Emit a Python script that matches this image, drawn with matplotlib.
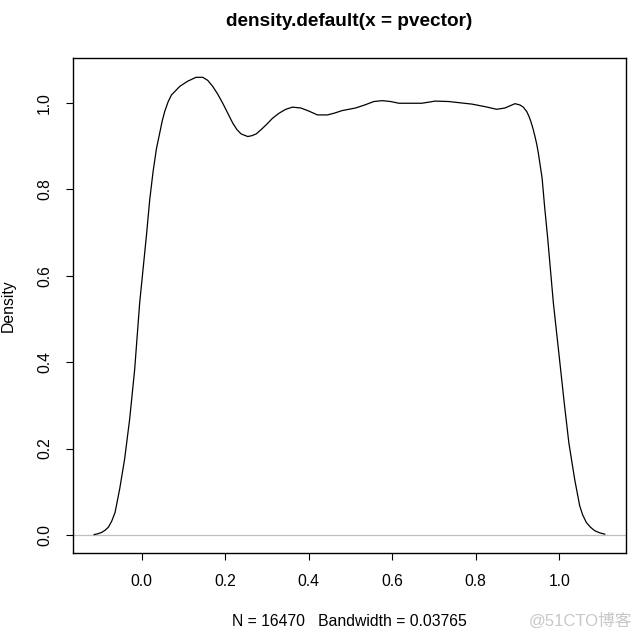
import matplotlib
matplotlib.use("Agg")
import matplotlib.pyplot as plt

# Density curve
xs = [-0.114, -0.105, -0.096, -0.088, -0.080, -0.072, -0.064, -0.053, -0.041,
      -0.029, -0.017, -0.005, 0.011, 0.019, 0.027, 0.035, 0.043, 0.049, 0.055,
      0.063, 0.071, 0.091, 0.110, 0.130, 0.146, 0.158, 0.170, 0.182, 0.194,
      0.206, 0.218, 0.228, 0.238, 0.254, 0.264, 0.274, 0.286, 0.298, 0.313,
      0.329, 0.345, 0.361, 0.381, 0.400, 0.421, 0.445, 0.461, 0.480, 0.512,
      0.534, 0.556, 0.576, 0.596, 0.616, 0.671, 0.703, 0.735, 0.791, 0.823,
      0.850, 0.870, 0.882, 0.894, 0.906, 0.914, 0.922, 0.927, 0.932, 0.937,
      0.942, 0.946, 0.950, 0.954, 0.959, 0.965, 0.972, 0.986, 0.999, 1.012,
      1.023, 1.037, 1.049, 1.056, 1.065, 1.075, 1.085, 1.097, 1.109]
ys = [0.001, 0.003, 0.006, 0.011, 0.018, 0.032, 0.052, 0.106, 0.176,
      0.268, 0.383, 0.537, 0.691, 0.775, 0.840, 0.893, 0.930, 0.958, 0.980,
      1.002, 1.018, 1.038, 1.050, 1.059, 1.059, 1.052, 1.038, 1.020, 0.999,
      0.976, 0.953, 0.938, 0.928, 0.922, 0.924, 0.928, 0.938, 0.949, 0.964,
      0.976, 0.985, 0.990, 0.988, 0.981, 0.972, 0.972, 0.976, 0.982, 0.988,
      0.995, 1.003, 1.005, 1.003, 0.999, 0.999, 1.004, 1.003, 0.997, 0.991,
      0.985, 0.988, 0.993, 0.998, 0.995, 0.990, 0.980, 0.970, 0.957, 0.941,
      0.922, 0.905, 0.884, 0.858, 0.826, 0.760, 0.691, 0.537, 0.422, 0.306,
      0.214, 0.129, 0.068, 0.047, 0.029, 0.018, 0.010, 0.005, 0.002]

xticks = [0.0, 0.2, 0.4, 0.6, 0.8, 1.0]
xticklabels = ["0.0", "0.2", "0.4", "0.6", "0.8", "1.0"]
yticks = [0.0, 0.2, 0.4, 0.6, 0.8, 1.0]
yticklabels = ["0.0", "0.2", "0.4", "0.6", "0.8", "1.0"]

title = "density.default(x = pvector)"
subtitle = "N = 16470   Bandwidth = 0.03765"
ylabel = "Density"
watermark = "@51CTO博客"

plt.rcParams['font.family'] = ['Liberation Sans', 'DejaVu Sans']

W = H = 638
fig = plt.figure(figsize=(W / 100, H / 100), dpi=100)
left, right, top, bottom = 73.3, 626.0, 58.3, 553.3
ax = fig.add_axes([left / W, 1 - bottom / H, (right - left) / W, (bottom - top) / H])

ax.axhline(0, color="#BEBEBE", lw=0.9, zorder=1)
ax.plot(xs, ys, color="black", lw=0.9, zorder=2)

ax.set_xlim(-0.164, 1.160)
ax.set_ylim(-0.0423, 1.103)

ax.set_xticks(xticks)
ax.set_xticklabels(xticklabels)
ax.set_yticks(yticks)
ax.set_yticklabels(yticklabels, rotation=90, va="center")

for s in ax.spines.values():
    s.set_linewidth(1.0)
    s.set_color("black")

ax.tick_params(axis="both", direction="out", length=5.2, width=0.8,
               labelsize=11.3, colors="black")
ax.tick_params(axis="x", pad=9.5)
ax.tick_params(axis="y", pad=10.0)

fig.text((left + right) / 2 / W, 1 - 21 / H, title, ha="center", va="center",
         fontsize=13.7, fontweight="bold")
fig.text((left + right) / 2 / W, 1 - 621 / H, subtitle, ha="center", va="center",
         fontsize=11.3)
fig.text(8 / W, 1 - ((top + bottom) / 2) / H, ylabel, ha="center", va="center",
         rotation=90, fontsize=11.3)
fig.text(580 / W, 1 - 621 / H, watermark, ha="center", va="center",
         fontsize=12.0, color="#C8C8C8",
         family=['Liberation Sans', 'Noto Sans CJK SC', 'DejaVu Sans'])

fig.savefig("out.png", dpi=100, facecolor="white")
